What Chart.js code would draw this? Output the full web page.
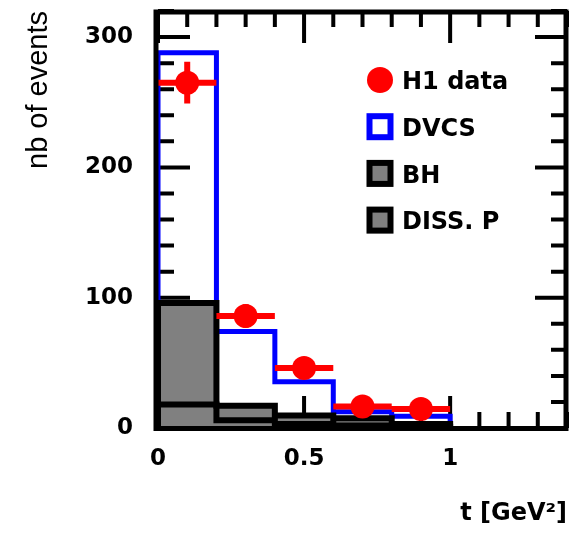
<!DOCTYPE html>
<html>
<head>
  <meta charset="UTF-8">
  <title>nb of events vs t</title>
  <script src="https://cdn.jsdelivr.net/npm/chart.js"></script>
  <style>
    html, body { margin: 0; padding: 0; background: #fff; }
    canvas { display: block; }
  </style>
</head>
<body>
  <canvas id="chart" width="571" height="533"></canvas>

  <script>
    // bin edges of the histograms (t in GeV^2)
    var binEdges = [0, 0.2, 0.4, 0.6, 0.8, 1.0];
    var binCenters = [0.1, 0.3, 0.5, 0.7, 0.9];
    var binHalfWidth = 0.1;

    // H1 data with errors
    var h1Values = [265, 86, 46, 16.5, 14.5];
    var h1Errors = [16, 9, 7, 4, 4];

    // Monte Carlo histograms, one value per bin
    var dvcsValues = [288, 74, 35.5, 12.5, 9];
    var bhValues = [96, 6, 3, 2, 1];
    var dissValues = [18, 17, 9.5, 7.5, 3];

    var legendLabels = ["H1 data", "DVCS", "BH", "DISS. P"];

    // axes
    var xMajorTicks = [0, 0.5, 1];
    var yMajorTicks = [0, 100, 200, 300];
    var xMinorStep = 0.1;
    var yMinorStep = 20;
    var xMax = 1.4;
    var yMax = 320;

    // histogram outline: (0,0) up to first bin, steps, down to 0 at last edge
    function histPoints(values) {
      var pts = [{ x: binEdges[0], y: 0 }];
      for (var i = 0; i < values.length; i++) {
        pts.push({ x: binEdges[i], y: values[i] });
      }
      pts.push({ x: binEdges[binEdges.length - 1], y: 0 });
      return pts;
    }

    // error bars as line segments separated by gaps
    var hBars = [], vBars = [];
    for (var i = 0; i < binCenters.length; i++) {
      hBars.push({ x: binCenters[i] - binHalfWidth, y: h1Values[i] });
      hBars.push({ x: binCenters[i] + binHalfWidth, y: h1Values[i] });
      hBars.push({ x: binCenters[i], y: null });
      vBars.push({ x: binCenters[i], y: h1Values[i] - h1Errors[i] });
      vBars.push({ x: binCenters[i], y: h1Values[i] + h1Errors[i] });
      vBars.push({ x: binCenters[i], y: null });
    }
    var h1Points = binCenters.map(function (c, i) { return { x: c, y: h1Values[i] }; });

    var RED = "#ff0000", BLUE = "#0000ff", GRAY = "#808080";

    var frameTicks = {
      id: "frameTicks",
      beforeDraw: function (chart) {
        var ctx = chart.ctx, a = chart.chartArea;
        var xs = chart.scales.x, ys = chart.scales.y;
        ctx.save();
        ctx.strokeStyle = "#000";
        ctx.lineWidth = 4;
        ctx.beginPath();
        for (var k = 0; k * yMinorStep <= yMax; k++) {
          var v = k * yMinorStep;
          var py = ys.getPixelForValue(v);
          var len = yMajorTicks.indexOf(v) >= 0 ? 32 : 16;
          ctx.moveTo(a.left, py); ctx.lineTo(a.left + len, py);
          ctx.moveTo(a.right, py); ctx.lineTo(a.right - len, py);
        }
        for (var k = 0; k * xMinorStep <= xMax + 1e-9; k++) {
          var v = Math.round(k * xMinorStep * 10) / 10;
          var px = xs.getPixelForValue(v);
          var len = xMajorTicks.indexOf(v) >= 0 ? 32 : 16;
          ctx.moveTo(px, a.bottom); ctx.lineTo(px, a.bottom - len);
          ctx.moveTo(px, a.top); ctx.lineTo(px, a.top + len);
        }
        ctx.stroke();
        ctx.restore();
      },
      afterDraw: function (chart) {
        var ctx = chart.ctx, a = chart.chartArea;
        ctx.save();
        // frame
        ctx.strokeStyle = "#000";
        ctx.lineWidth = 5;
        ctx.strokeRect(a.left - 2, a.top + 1, a.right - a.left + 1, a.bottom - a.top - 0.5);

        // legend
        var lx = 380, ly = 80, gap = 46.7;
        ctx.font = "bold 24px 'DejaVu Sans'";
        ctx.textBaseline = "middle";
        ctx.textAlign = "left";
        for (var i = 0; i < legendLabels.length; i++) {
          var cy = ly + i * gap;
          if (i === 0) {
            ctx.fillStyle = RED;
            ctx.beginPath();
            ctx.arc(lx, cy, 13, 0, Math.PI * 2);
            ctx.fill();
          } else {
            ctx.fillStyle = i === 1 ? "#fff" : GRAY;
            ctx.fillRect(lx - 13, cy - 13, 26, 26);
            ctx.strokeStyle = i === 1 ? BLUE : "#000";
            ctx.lineWidth = 6;
            ctx.strokeRect(lx - 10.5, cy - 10.5, 21, 21);
          }
          ctx.fillStyle = "#000";
          ctx.fillText(legendLabels[i], 402, cy + 3);
        }
        ctx.restore();
      }
    };

    // keep the plot frame where the reference has it
    function noPad(s) {
      s.paddingTop = 0; s.paddingBottom = 0;
      s.paddingLeft = 0; s.paddingRight = 0;
    }

    var ctx = document.getElementById("chart").getContext("2d");
    var chart = new Chart(ctx, {
      data: {
        datasets: [
          {
            type: "scatter", label: legendLabels[0], data: h1Points,
            pointRadius: 12, pointHoverRadius: 12, backgroundColor: RED, borderWidth: 0, order: 0
          },
          {
            type: "line", data: hBars, borderColor: RED, borderWidth: 6,
            pointRadius: 0, spanGaps: false, fill: false, order: 1
          },
          {
            type: "line", data: vBars, borderColor: RED, borderWidth: 6,
            pointRadius: 0, spanGaps: false, fill: false, order: 1
          },
          {
            type: "line", label: legendLabels[2], data: histPoints(bhValues),
            stepped: "before", borderColor: "#000", borderWidth: 6,
            backgroundColor: GRAY, fill: "origin", pointRadius: 0, order: 2
          },
          {
            type: "line", label: legendLabels[3], data: histPoints(dissValues),
            stepped: "before", borderColor: "#000", borderWidth: 6,
            backgroundColor: GRAY, fill: "origin", pointRadius: 0, order: 3
          },
          {
            type: "line", label: legendLabels[1], data: histPoints(dvcsValues),
            stepped: "before", borderColor: BLUE, borderWidth: 5,
            fill: false, pointRadius: 0, order: 4
          }
        ]
      },
      options: {
        responsive: false,
        animation: false,
        events: [],
        layout: { autoPadding: false, padding: { top: 11, right: 4, left: 0, bottom: 0 } },
        plugins: {
          legend: { display: false },
          tooltip: { enabled: false },
          filler: { drawTime: "beforeDatasetsDraw" }
        },
        scales: {
          x: {
            type: "linear",
            min: 0,
            max: xMax,
            grid: { display: false, drawTicks: false },
            border: { display: false },
            afterBuildTicks: function (s) {
              s.ticks = xMajorTicks.map(function (v) { return { value: v }; });
            },
            afterFit: function (s) { s.height = 105; noPad(s); },
            ticks: {
              padding: 17,
              maxRotation: 0,
              color: "#000",
              font: { family: "DejaVu Sans", weight: "bold", size: 23 },
              callback: function (v) { return String(v); }
            },
            title: {
              display: true,
              text: "t [GeV²]",
              align: "end",
              color: "#000",
              font: { family: "DejaVu Sans", weight: "bold", size: 24 },
              padding: { top: 0, bottom: 5 }
            }
          },
          y: {
            type: "linear",
            min: 0,
            max: yMax,
            grid: { display: false, drawTicks: false },
            border: { display: false },
            afterBuildTicks: function (s) {
              s.ticks = yMajorTicks.map(function (v) { return { value: v }; });
            },
            afterFit: function (s) { s.width = 158; noPad(s); },
            ticks: {
              padding: 25,
              color: "#000",
              font: { family: "DejaVu Sans", weight: "bold", size: 23 },
              callback: function (v) { return String(v); }
            },
            title: {
              display: true,
              text: "nb of events",
              align: "end",
              color: "#000",
              font: { family: "Liberation Sans", weight: "normal", size: 29 },
              padding: { top: 22, bottom: 0 }
            }
          }
        }
      },
      plugins: [frameTicks]
    });
  </script>
</body>
</html>
